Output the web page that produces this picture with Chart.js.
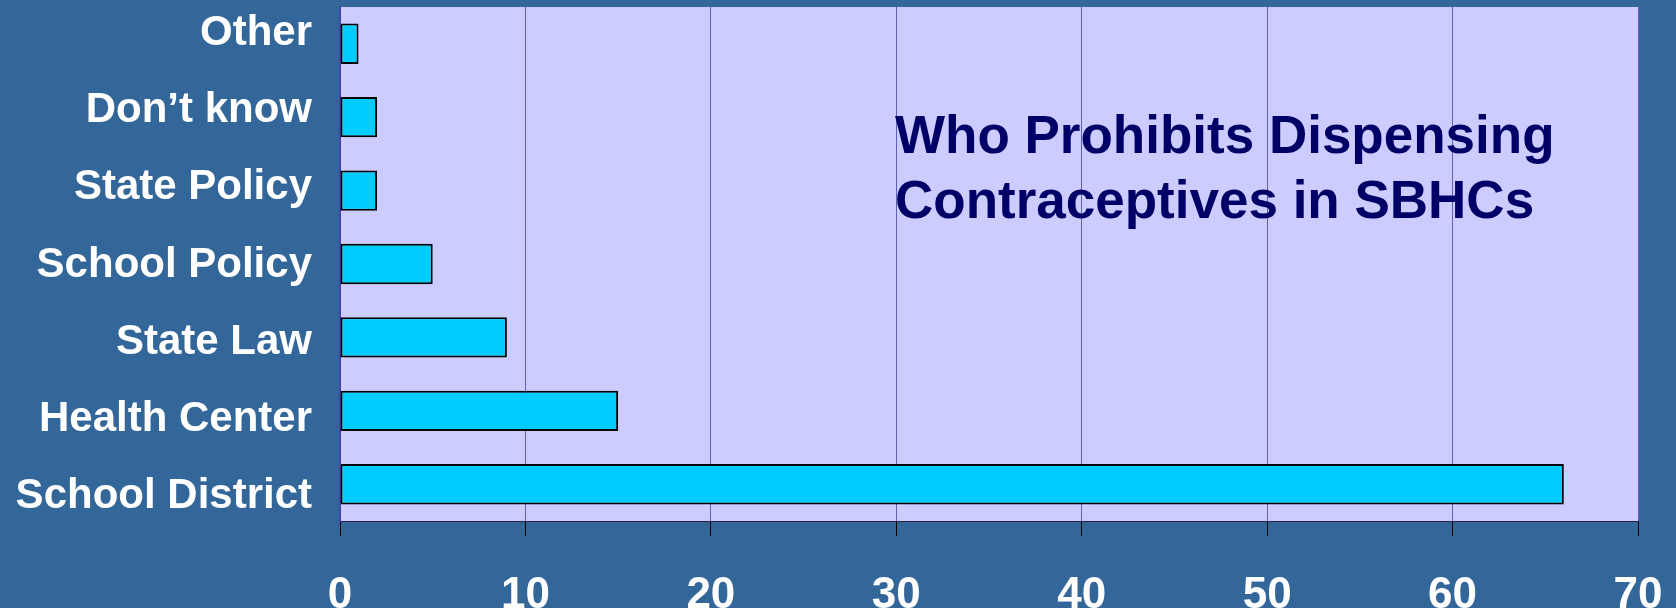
<!DOCTYPE html>
<html>
<head>
<meta charset="utf-8">
<script src="https://cdn.jsdelivr.net/npm/chart.js@4"></script>
<style>
  body { margin: 0; background: #336699; }
  #wrap { width: 1676px; height: 608px; }
</style>
</head>
<body>
<div id="wrap"><canvas id="myChart" width="1676" height="608"></canvas></div>
<script>
// data
var categories = ['Other', 'Don\u2019t know', 'State Policy', 'School Policy', 'State Law', 'Health Center', 'School District'];
var values = [1, 2, 2, 5, 9, 15, 66];
var xTicks = [0, 10, 20, 30, 40, 50, 60, 70];
var titleLines = ['Who Prohibits Dispensing', 'Contraceptives in SBHCs'];

// plot background + title inside plot
const plotBack = {
  id: 'plotBack',
  beforeDraw(chart) {
    const a = chart.chartArea;
    const c = chart.ctx;
    c.save();
    c.fillStyle = '#CCCCFF';
    c.fillRect(a.left, a.top, a.right - a.left, a.bottom - a.top);
    c.restore();
  },
  afterDraw(chart) {
    const c = chart.ctx;
    c.save();
    c.fillStyle = '#000066';
    c.font = 'bold 53px "Liberation Sans", Arial, sans-serif';
    c.textBaseline = 'alphabetic';
    c.fillText(titleLines[0], 895, 153);
    c.fillText(titleLines[1], 895, 218);
    c.restore();
  }
};

const ctx = document.getElementById('myChart');

new Chart(ctx, {
  type: 'bar',
  data: {
    labels: categories,
    datasets: [{
      data: values,
      backgroundColor: '#00CCFF',
      borderColor: '#000000',
      borderWidth: 2,
      borderSkipped: false,
      barPercentage: 0.55,
      categoryPercentage: 1
    }]
  },
  options: {
    indexAxis: 'y',
    responsive: false,
    animation: false,
    layout: { padding: { top: 7, right: 38, left: 10 } },
    plugins: {
      legend: { display: false },
      tooltip: { enabled: false }
    },
    scales: {
      x: {
        min: 0,
        max: 70,
        afterBuildTicks(axis) {
          axis.ticks = xTicks.map(v => ({ value: v }));
        },
        grid: {
          color: '#6060B8',
          lineWidth: 1,
          tickLength: 15,
          tickColor: '#000000'
        },
        border: { display: true, color: '#222244', width: 1 },
        ticks: {
          color: '#FFFFFF',
          padding: 33,
          font: { family: '"Liberation Sans", Arial, sans-serif', size: 44, weight: 'bold' }
        },
        afterFit(axis) {
          axis.height = 87;
          axis.paddingLeft = 0;
          axis.paddingRight = 0;
        }
      },
      y: {
        display: false
      },
      // category names sit slightly more spread out than the bars in the original
      yl: {
        type: 'linear',
        position: 'left',
        reverse: true,
        offset: false,
        bounds: 'data',
        min: -0.343,
        max: 6.317,
        afterBuildTicks(axis) {
          axis.ticks = categories.map((c, i) => ({ value: i }));
        },
        grid: { display: false, drawTicks: false, offset: false },
        border: { display: true, color: '#4444AA', width: 2 },
        ticks: {
          color: '#FFFFFF',
          padding: 28,
          font: { family: '"Liberation Sans", Arial, sans-serif', size: 42, weight: 'bold' },
          callback: (v) => categories[v]
        },
        afterFit(axis) {
          axis.width = 330;
          axis.paddingTop = 0;
          axis.paddingBottom = 0;
        }
      }
    }
  },
  plugins: [plotBack]
});
</script>
</body>
</html>
